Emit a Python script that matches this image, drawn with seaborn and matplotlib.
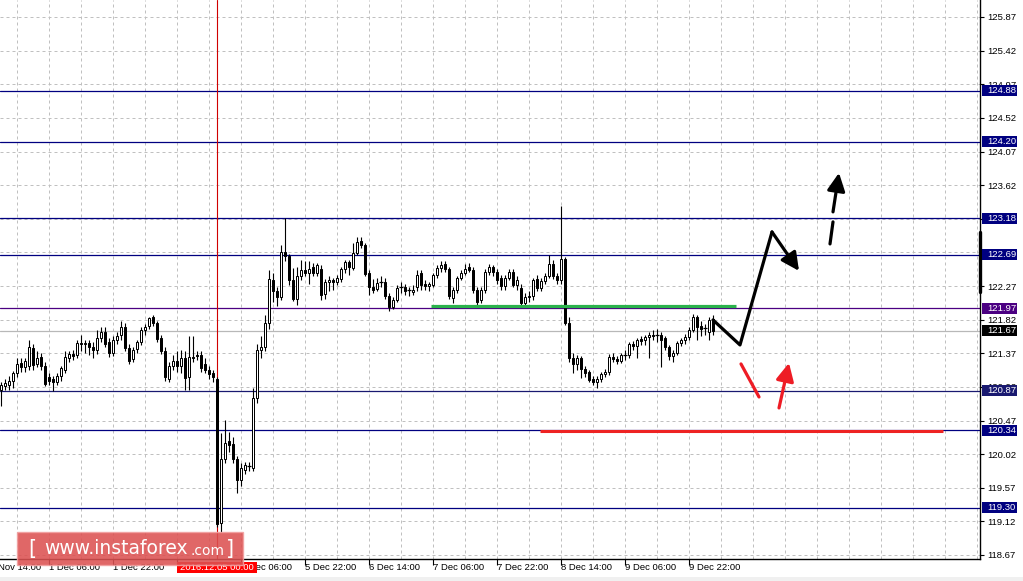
import matplotlib
matplotlib.use("Agg")
import matplotlib.pyplot as plt
import matplotlib.transforms as mtransforms
from matplotlib.patches import Rectangle
import seaborn as sns

# USDJPY H1 candles, one per hour from 30 Nov 18:00 (weekend skipped)
opens = [120.88, 120.93, 120.95, 121.00, 121.10, 121.24, 121.19, 121.20, 121.44, 121.22,
         121.32, 121.20, 121.05, 121.02, 120.99, 121.06, 121.15, 121.31, 121.36, 121.35,
         121.51, 121.49, 121.51, 121.46, 121.41, 121.57, 121.65, 121.52, 121.37, 121.55,
         121.61, 121.72, 121.44, 121.29, 121.43, 121.52, 121.68, 121.74, 121.86, 121.77,
         121.57, 121.40, 121.02, 121.20, 121.26, 121.20, 121.30, 121.05, 121.32, 121.35,
         121.35, 121.22, 121.15, 121.10, 121.03, 119.10, 119.96, 120.19, 120.16, 119.96,
         119.68, 119.81, 119.85, 119.83, 120.77, 121.41, 121.45, 121.78, 122.35, 122.20,
         122.12, 122.73, 122.67, 122.35, 122.10, 122.40, 122.49, 122.45, 122.53, 122.45,
         122.50, 122.16, 122.33, 122.35, 122.33, 122.36, 122.50, 122.59, 122.51, 122.71,
         122.87, 122.82, 122.44, 122.25, 122.23, 122.32, 122.32, 122.13, 121.99, 122.08,
         122.24, 122.25, 122.20, 122.19, 122.25, 122.44, 122.30, 122.27, 122.29, 122.42,
         122.51, 122.56, 122.50, 122.11, 122.22, 122.38, 122.45, 122.52, 122.49, 122.22,
         122.08, 122.22, 122.46, 122.52, 122.46, 122.38, 122.27, 122.38, 122.46, 122.28,
         122.24, 122.04, 122.12, 122.13, 122.37, 122.24, 122.34, 122.40, 122.57, 122.40,
         122.35, 122.63, 121.77, 121.30, 121.22, 121.30, 121.16, 121.12, 121.03, 120.98,
         121.02, 121.09, 121.12, 121.32, 121.29, 121.27, 121.34, 121.35, 121.49, 121.47,
         121.56, 121.55, 121.59, 121.62, 121.60, 121.61, 121.57, 121.45, 121.33, 121.38,
         121.51, 121.55, 121.59, 121.68, 121.86, 121.74, 121.70, 121.66, 121.83]
highs = [120.99, 121.02, 121.06, 121.13, 121.30, 121.30, 121.30, 121.55, 121.50, 121.40,
         121.38, 121.25, 121.10, 121.06, 121.10, 121.20, 121.40, 121.40, 121.42, 121.55,
         121.62, 121.55, 121.55, 121.52, 121.68, 121.72, 121.72, 121.58, 121.60, 121.66,
         121.80, 121.77, 121.50, 121.46, 121.55, 121.72, 121.76, 121.86, 121.88, 121.80,
         121.62, 121.45, 121.25, 121.35, 121.40, 121.42, 121.40, 121.60, 121.60, 121.40,
         121.40, 121.30, 121.20, 121.15, 121.05, 120.30, 120.48, 120.32, 120.25, 120.00,
         119.90, 119.92, 119.92, 120.91, 121.50, 121.60, 121.88, 122.49, 122.45, 122.25,
         122.82, 123.18, 122.70, 122.51, 122.53, 122.62, 122.60, 122.60, 122.58, 122.58,
         122.55, 122.36, 122.40, 122.38, 122.42, 122.53, 122.62, 122.62, 122.85, 122.93,
         122.92, 122.85, 122.48, 122.37, 122.38, 122.40, 122.38, 122.18, 122.12, 122.28,
         122.32, 122.30, 122.26, 122.28, 122.48, 122.48, 122.35, 122.33, 122.45, 122.55,
         122.60, 122.61, 122.53, 122.25, 122.40, 122.48, 122.56, 122.58, 122.52, 122.26,
         122.25, 122.50, 122.56, 122.55, 122.50, 122.42, 122.42, 122.50, 122.50, 122.40,
         122.30, 122.18, 122.20, 122.38, 122.42, 122.38, 122.45, 122.69, 122.62, 122.45,
         123.34, 122.66, 121.86, 121.38, 121.35, 121.33, 121.20, 121.15, 121.06, 121.06,
         121.12, 121.16, 121.36, 121.38, 121.33, 121.38, 121.42, 121.52, 121.53, 121.58,
         121.60, 121.62, 121.65, 121.68, 121.70, 121.65, 121.60, 121.48, 121.42, 121.53,
         121.58, 121.63, 121.72, 121.90, 121.88, 121.80, 121.76, 121.85, 121.88]
lows = [120.66, 120.88, 120.88, 120.90, 121.05, 121.12, 121.12, 121.15, 121.15, 121.18,
        121.15, 120.93, 120.95, 120.86, 120.95, 121.00, 121.10, 121.25, 121.28, 121.30,
        121.40, 121.38, 121.35, 121.30, 121.36, 121.52, 121.45, 121.32, 121.33, 121.50,
        121.55, 121.40, 121.22, 121.25, 121.38, 121.48, 121.62, 121.70, 121.74, 121.52,
        121.36, 121.00, 120.98, 121.15, 121.12, 121.10, 120.88, 120.88, 121.25, 121.28,
        121.12, 121.10, 121.02, 120.98, 119.05, 118.98, 119.90, 120.05, 119.90, 119.50,
        119.60, 119.75, 119.80, 119.80, 120.70, 121.30, 121.40, 121.70, 122.05, 122.00,
        122.08, 122.60, 122.28, 122.07, 122.02, 122.35, 122.40, 122.30, 122.40, 122.40,
        122.08, 122.10, 122.20, 122.22, 122.28, 122.32, 122.45, 122.42, 122.48, 122.68,
        122.78, 122.40, 122.15, 122.18, 122.20, 122.25, 122.10, 121.93, 121.96, 122.05,
        122.18, 122.15, 122.14, 122.15, 122.20, 122.22, 122.22, 122.20, 122.25, 122.38,
        122.46, 122.46, 122.10, 122.04, 122.18, 122.35, 122.42, 122.46, 122.18, 122.00,
        122.04, 122.18, 122.42, 122.40, 122.30, 122.22, 122.22, 122.35, 122.25, 122.22,
        122.00, 122.02, 122.06, 122.08, 122.20, 122.20, 122.30, 122.38, 122.36, 122.30,
        122.30, 121.75, 121.25, 121.10, 121.15, 121.04, 121.05, 120.98, 120.95, 120.91,
        120.98, 121.05, 121.08, 121.25, 121.22, 121.24, 121.28, 121.30, 121.42, 121.30,
        121.48, 121.48, 121.30, 121.55, 121.52, 121.19, 121.42, 121.28, 121.25, 121.35,
        121.47, 121.50, 121.55, 121.65, 121.55, 121.60, 121.62, 121.55, 121.62]
closes = [120.95, 120.97, 121.00, 121.10, 121.23, 121.19, 121.26, 121.45, 121.21, 121.31,
          121.20, 120.96, 121.00, 120.98, 121.06, 121.17, 121.32, 121.36, 121.33, 121.51,
          121.49, 121.51, 121.46, 121.41, 121.57, 121.65, 121.50, 121.37, 121.55, 121.60,
          121.72, 121.44, 121.27, 121.42, 121.52, 121.68, 121.72, 121.84, 121.77, 121.56,
          121.40, 121.05, 121.20, 121.26, 121.20, 121.30, 121.04, 121.32, 121.30, 121.33,
          121.17, 121.15, 121.09, 121.05, 119.08, 119.96, 120.17, 120.14, 119.96, 119.67,
          119.83, 119.87, 119.86, 120.77, 121.41, 121.45, 121.78, 122.37, 122.20, 122.12,
          122.73, 122.67, 122.35, 122.09, 122.40, 122.49, 122.45, 122.50, 122.45, 122.55,
          122.15, 122.32, 122.35, 122.33, 122.38, 122.50, 122.59, 122.52, 122.71, 122.86,
          122.82, 122.43, 122.25, 122.22, 122.31, 122.33, 122.13, 121.99, 122.08, 122.24,
          122.25, 122.20, 122.21, 122.22, 122.42, 122.28, 122.27, 122.30, 122.42, 122.51,
          122.55, 122.50, 122.13, 122.22, 122.38, 122.45, 122.50, 122.49, 122.22, 122.06,
          122.22, 122.46, 122.52, 122.46, 122.35, 122.27, 122.38, 122.46, 122.29, 122.35,
          122.04, 122.12, 122.14, 122.35, 122.24, 122.34, 122.40, 122.57, 122.40, 122.35,
          122.63, 121.77, 121.30, 121.22, 121.30, 121.16, 121.10, 121.01, 120.98, 121.02,
          121.09, 121.12, 121.32, 121.29, 121.27, 121.34, 121.35, 121.49, 121.47, 121.55,
          121.54, 121.59, 121.61, 121.60, 121.61, 121.55, 121.45, 121.33, 121.38, 121.51,
          121.55, 121.59, 121.68, 121.86, 121.72, 121.70, 121.71, 121.81, 121.67]

# support / resistance levels
levels = [124.88, 124.20, 123.18, 122.69, 121.97, 120.87, 120.34, 119.30]
level_colors = ["#000080", "#000080", "#000080", "#000080", "#4b0082", "#191970", "#000080", "#000080"]
last_price = 121.67

price_ticks = [118.67, 119.12, 119.57, 120.02, 120.47, 120.92, 121.37, 121.82, 122.27,
               122.72, 123.17, 123.62, 124.07, 124.52, 124.97, 125.42, 125.87]
time_labels = ["30 Nov 14:00", "1 Dec 06:00", "1 Dec 22:00", "2 Dec 14:00", "5 Dec 06:00",
               "5 Dec 22:00", "6 Dec 14:00", "7 Dec 06:00", "7 Dec 22:00", "8 Dec 14:00",
               "9 Dec 06:00", "9 Dec 22:00"]
crosshair_bar = 54
crosshair_label = "2016.12.05 00:00"

# forecast drawing (bar index, price)
green_zone = ([107.5, 183.75], 122.00)
red_zone = ([134.75, 235.5], 120.33)
path_x = [178, 184.75, 192.75]
path_y = [121.816, 121.481, 122.993]
path_tip = (199.5, 122.472)
dash_seg = ([207.25, 208.0], [122.833, 123.128])
dash_arrow = ((208.0, 123.262), (209.5, 123.784))
red_seg = ([185.0, 189.5], [121.227, 120.785])
red_arrow = ((194.5, 120.638), (197.0, 121.240))

W, H = 1023, 581
sns.set_theme(style="white")
plt.rcParams["font.family"] = ["Liberation Sans", "DejaVu Sans"]

fig = plt.figure(figsize=(W / 100, H / 100), dpi=100)
fig.patch.set_facecolor("white")
ax_w, ax_h = 980, 559
ax = fig.add_axes([0, (H - ax_h) / H, ax_w / W, ax_h / H])
ax.set_facecolor("white")

px_per_unit = 538 / 7.2
ax.set_ylim(118.67 - 4 / px_per_unit, 125.87 + 17 / px_per_unit)
ax.set_xlim(-0.25, (ax_w - 1) / 4)

grid_kw = dict(color="#c0c0c0", lw=0.72, ls=(0, (3, 3)), zorder=0)
for g in range(4, 245, 8):
    ax.axvline(g, **grid_kw)
for t in price_ticks:
    ax.axhline(t, **grid_kw)

for lv, col in zip(levels, level_colors):
    ax.axhline(lv, color=col, lw=0.9, zorder=1)
ax.axhline(last_price, color="#b8b8b8", lw=0.9, zorder=1)

ax.axvline(crosshair_bar, color="#d00000", lw=0.8, zorder=1)

n = len(closes)
idx = list(range(n))
ax.vlines(idx, lows, highs, color="black", lw=0.8, zorder=3)
for i in idx:
    o, c = opens[i], closes[i]
    lo, hi = min(o, c), max(o, c)
    fc = "white" if c >= o else "black"
    if hi - lo < 0.012:
        ax.hlines(c, i - 0.4, i + 0.4, color="black", lw=0.9, zorder=4)
    else:
        ax.bar(i, hi - lo, bottom=lo, width=0.72, color=fc, edgecolor="black", lw=0.72, zorder=4)

# forecast lines and arrows
ax.plot(green_zone[0], [green_zone[1]] * 2, color="#2bb24c", lw=2.3, zorder=5, solid_capstyle="butt")
ax.plot(red_zone[0], [red_zone[1]] * 2, color="#ee2222", lw=2.2, zorder=5, solid_capstyle="butt")
sns.lineplot(x=path_x, y=path_y, sort=False, estimator=None, color="black", lw=2.3, ax=ax, zorder=6)
arrow_kw = dict(arrowstyle="-|>,head_length=0.9,head_width=0.45", lw=2.3, shrinkA=0, shrinkB=0)
ax.annotate("", xy=path_tip, xytext=(path_x[-1], path_y[-1]),
            arrowprops=dict(color="black", **arrow_kw), zorder=6)
ax.plot(dash_seg[0], dash_seg[1], color="black", lw=2.3, zorder=6)
ax.annotate("", xy=dash_arrow[1], xytext=dash_arrow[0],
            arrowprops=dict(color="black", **arrow_kw), zorder=6)
ax.plot(red_seg[0], red_seg[1], color="#ee1c25", lw=2.3, zorder=6)
ax.annotate("", xy=red_arrow[1], xytext=red_arrow[0],
            arrowprops=dict(color="#ee1c25", **arrow_kw), zorder=6)

# axes frame
for s in ["left", "top"]:
    ax.spines[s].set_visible(False)
for s in ["right", "bottom"]:
    ax.spines[s].set_color("black")
    ax.spines[s].set_linewidth(1.0)
ax.plot([1.0, 1.0], [122.99, 122.19], color="black", lw=2.4,
        transform=mtransforms.blended_transform_factory(ax.transAxes, ax.transData),
        clip_on=False, zorder=7)

ax.yaxis.tick_right()
ax.set_yticks(price_ticks, [f"{t:.2f}" for t in price_ticks])
ax.tick_params(axis="y", right=True, left=False, length=3, width=0.8, pad=2,
               labelsize=6.8, colors="black")

tick_bars = [-4 + 16 * k for k in range(len(time_labels))]
ax.set_xticks([b for b in tick_bars if b >= 0], [])
ax.tick_params(axis="x", bottom=True, length=4, width=0.8, colors="black")
xt = mtransforms.blended_transform_factory(ax.transData, ax.transAxes)
for b, lab in zip(tick_bars, time_labels):
    ax.text(b, -9 / ax_h, lab, transform=xt, ha="left", va="center", fontsize=6.8,
            color="black", clip_on=False)

# highlighted price boxes on the right scale
yt = mtransforms.blended_transform_factory(ax.transAxes, ax.transData)
box_h = 11 / px_per_unit
for lv, col in zip(levels + [last_price], level_colors + ["black"]):
    ax.add_patch(Rectangle((982 / ax_w, lv - box_h / 2), 35 / ax_w, box_h, transform=yt,
                           facecolor=col, edgecolor="none", clip_on=False, zorder=8))
    ax.text(987 / ax_w, lv, f"{lv:.2f}", transform=yt, ha="left", va="center",
            fontsize=6.8, color="white", clip_on=False, zorder=9)

# crosshair time box
ax.add_patch(Rectangle((177 / ax_w, -14 / ax_h), 80 / ax_w, 11 / ax_h, transform=ax.transAxes,
                       facecolor="#ff0000", edgecolor="none", clip_on=False, zorder=8))
ax.text(180 / ax_w, -8.5 / ax_h, crosshair_label, transform=ax.transAxes, ha="left",
        va="center", fontsize=6.8, color="white", clip_on=False, zorder=9)

# bottom strip
fig.patches.append(Rectangle((0, 0), 1, 4 / H, transform=fig.transFigure,
                             facecolor="#f0f0f0", edgecolor="none"))

# watermark
def fp(x, y):
    return x / W, 1 - y / H

fig.patches.append(Rectangle(fp(17, 565), 226 / W, 33 / H, transform=fig.transFigure,
                             facecolor="#dc5252", edgecolor="#f2a0a0", lw=1.0, alpha=0.88,
                             zorder=10))
fig.text(*fp(28, 549), "[", fontsize=15, color="white", va="center", ha="left",
         family="DejaVu Sans", zorder=11)
fig.text(*fp(44, 549), "www.instaforex", fontsize=13.5, color="white", va="center",
         ha="left", family="DejaVu Sans", zorder=11)
fig.text(*fp(190, 551), ".com", fontsize=10, color="white", va="center", ha="left",
         family="DejaVu Sans", zorder=11)
fig.text(*fp(226, 549), "]", fontsize=15, color="white", va="center", ha="left",
         family="DejaVu Sans", zorder=11)

fig.savefig("out.png", dpi=100)
